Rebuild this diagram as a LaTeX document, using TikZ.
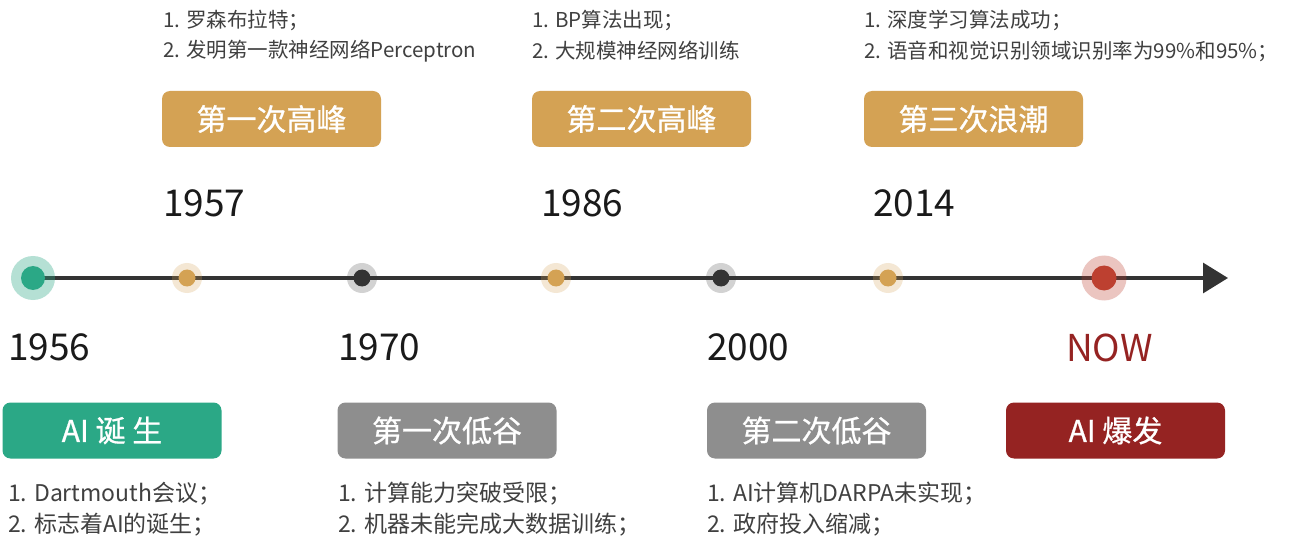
\documentclass[tikz,border=0pt]{standalone}
\usepackage{fontspec}
\newfontfamily\cjk{Noto Sans CJK SC}
\newfontfamily\cjkbox{Noto Sans CJK SC}[FakeBold=0.8]
\usetikzlibrary{arrows.meta}
\definecolor{cgold}{HTML}{D4A254}
\definecolor{cgreen}{HTML}{2BA886}
\definecolor{cgraybox}{HTML}{8E8E8E}
\definecolor{credbox}{HTML}{952322}
\definecolor{cdotred}{HTML}{BD4030}
\definecolor{caxis}{HTML}{333333}
\definecolor{ctxt}{HTML}{404040}
\definecolor{cyear}{HTML}{1A1A1A}
\tikzset{
  stagebox/.style={rounded corners=8pt, minimum width=219pt, minimum height=56pt, inner sep=0pt,
    text=white, font=\cjkbox\fontsize{30}{30}\selectfont},
  yearlbl/.style={anchor=west, inner sep=0pt, text=cyear, font=\cjk\fontsize{37}{40}\selectfont},
  desctop/.style={anchor=west, inner sep=0pt, text=ctxt, font=\cjk\fontsize{20.5}{24}\selectfont},
  descbot/.style={anchor=west, inner sep=0pt, text=ctxt, font=\cjk\fontsize{23}{26}\selectfont},
  halo/.style={circle, inner sep=0pt},
  dot/.style={circle, inner sep=0pt},
  axisline/.style={draw=caxis, line width=3.2pt, -{Triangle[length=25pt,width=30pt]}}
}
\begin{document}
\begin{tikzpicture}[x=1pt,y=-1pt]
\useasboundingbox[fill=white] (0,0) rectangle (1299,540);
% axis
\coordinate (axisstart) at (33,278);
\coordinate (axisend) at (1228,278);
\draw[axisline] (axisstart) -- (axisend);
% halos
\node[halo, minimum size=44pt, fill=cgreen, fill opacity=0.35] (h1956) at (33,278) {};
\node[halo, minimum size=30pt, fill=cgold, fill opacity=0.25] (h1957) at (187,278) {};
\node[halo, minimum size=30pt, fill=caxis, fill opacity=0.22] (h1970) at (362,278) {};
\node[halo, minimum size=30pt, fill=cgold, fill opacity=0.25] (h1986) at (556,278) {};
\node[halo, minimum size=30pt, fill=caxis, fill opacity=0.22] (h2000) at (721,278) {};
\node[halo, minimum size=30pt, fill=cgold, fill opacity=0.25] (h2014) at (888,278) {};
\node[halo, minimum size=45pt, fill=cdotred, fill opacity=0.3] (hnow) at (1104,278) {};
% dots
\node[dot, minimum size=24pt, fill=cgreen] (d1956) at (h1956) {};
\node[dot, minimum size=17pt, fill=cgold] (d1957) at (h1957) {};
\node[dot, minimum size=17pt, fill=caxis] (d1970) at (h1970) {};
\node[dot, minimum size=17pt, fill=cgold] (d1986) at (h1986) {};
\node[dot, minimum size=17pt, fill=caxis] (d2000) at (h2000) {};
\node[dot, minimum size=17pt, fill=cgold] (d2014) at (h2014) {};
\node[dot, minimum size=25pt, fill=cdotred] (dnow) at (hnow) {};
% years
\node[yearlbl] (y1956) at (8,347.5) {1956};
\node[yearlbl] (y1957) at (163,203.5) {1957};
\node[yearlbl] (y1970) at (338,347.5) {1970};
\node[yearlbl] (y1986) at (541,203.5) {1986};
\node[yearlbl] (y2000) at (707,347.5) {2000};
\node[yearlbl] (y2014) at (873,203.5) {2014};
\node[yearlbl, text=credbox] (ynow) at (1066,347.5) {NOW};
% stage boxes
\node[stagebox, fill=cgold] (b1) at (271.5,119) {第一次高峰};
\node[stagebox, fill=cgold] (b2) at (641.5,119) {第二次高峰};
\node[stagebox, fill=cgold] (b3) at (973.5,119) {第三次浪潮};
\node[stagebox, fill=cgreen] (b0) at (112,430.5) {AI 诞 生};
\node[stagebox, fill=cgraybox] (b4) at (447,430.5) {第一次低谷};
\node[stagebox, fill=cgraybox] (b5) at (816.5,430.5) {第二次低谷};
\node[stagebox, fill=credbox] (b6) at (1115.5,430.5) {AI 爆发};
% descriptions
\node[desctop] (t1a) at (163,20) {1. 罗森布拉特；};
\node[desctop] (t1b) at (163,51) {2. 发明第一款神经网络Perceptron};
\node[desctop] (t2a) at (532,20) {1. BP算法出现；};
\node[desctop] (t2b) at (532,51) {2. 大规模神经网络训练};
\node[desctop] (t3a) at (864,20) {1. 深度学习算法成功；};
\node[desctop] (t3b) at (864,51) {2. 语音和视觉识别领域识别率为99\%和95\%；};
\node[descbot] (t0a) at (8,494) {1. Dartmouth会议；};
\node[descbot] (t0b) at (8,525) {2. 标志着AI的诞生；};
\node[descbot] (t4a) at (338,494) {1. 计算能力突破受限；};
\node[descbot] (t4b) at (338,525) {2. 机器未能完成大数据训练；};
\node[descbot] (t5a) at (707,494) {1. AI计算机DARPA未实现；};
\node[descbot] (t5b) at (707,525) {2. 政府投入缩减；};
\end{tikzpicture}
\end{document}
